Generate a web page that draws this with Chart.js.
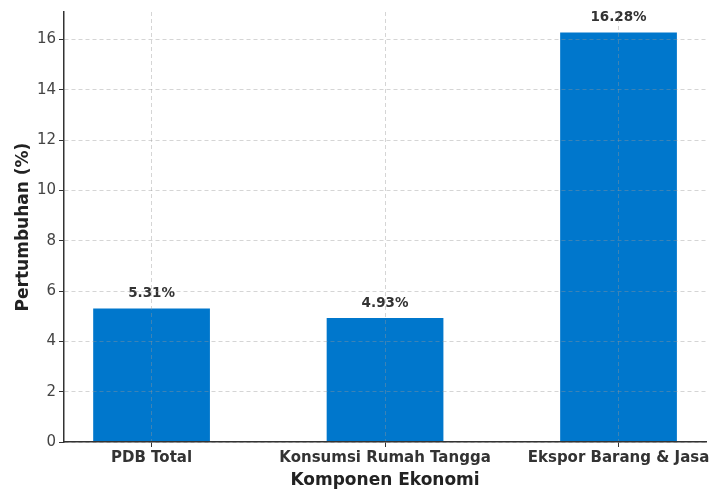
<!DOCTYPE html>
<html>
<head>
<meta charset="utf-8">
<script src="https://cdn.jsdelivr.net/npm/chart.js@4/dist/chart.umd.min.js"></script>
<style>
html,body{margin:0;padding:0;background:#fff;}
#wrap{width:712px;height:491px;position:relative;}
</style>
</head>
<body>
<div id="wrap"><canvas id="c" width="712" height="491"></canvas></div>
<script>
const categories = ["PDB Total", "Konsumsi Rumah Tangga", "Ekspor Barang & Jasa"];
const growth = [5.31, 4.93, 16.28];
const yTicks = [0, 2, 4, 6, 8, 10, 12, 14, 16];
const yMax = 17.09;

const FONT = "'DejaVu Sans', sans-serif";

const valueLabels = {
  id: 'valueLabels',
  afterDatasetsDraw(chart) {
    const ctx = chart.ctx;
    const meta = chart.getDatasetMeta(0);
    ctx.save();
    ctx.font = "bold 13.5px " + FONT;
    ctx.fillStyle = '#333333';
    ctx.textAlign = 'center';
    ctx.textBaseline = 'bottom';
    meta.data.forEach((bar, i) => {
      ctx.fillText(growth[i].toFixed(2) + '%', bar.x, bar.y - 8);
    });
    ctx.restore();
  }
};

new Chart(document.getElementById('c'), {
  type: 'bar',
  data: {
    datasets: [{
      data: growth.map((v, i) => ({x: i, y: v})),
      backgroundColor: '#0077CC',
      borderWidth: 0,
      barPercentage: 0.5,
      categoryPercentage: 1.0
    }]
  },
  options: {
    responsive: false,
    animation: false,
    layout: {padding: {left: 6, right: 5, top: 1, bottom: 0}},
    plugins: {legend: {display: false}, tooltip: {enabled: false}},
    scales: {
      x: {
        type: 'linear',
        min: -0.375,
        max: 2.375,
        offset: false,
        z: 1,
        afterBuildTicks(scale) { scale.ticks = categories.map((c, i) => ({value: i})); },
        afterFit(scale) { scale.height = 49; },
        ticks: {
          callback: (v) => categories[v],
          font: {family: FONT, size: 15, weight: 'bold'},
          color: '#333333',
          padding: 2,
          maxRotation: 0,
          autoSkip: false
        },
        grid: {
          z: 1,
          offset: false,
          color: 'rgba(150,150,150,0.4)',
          lineWidth: 1,
          tickLength: 5,
          tickColor: '#333333',
          tickBorderDash: [],
          tickWidth: 1
        },
        border: {display: true, color: '#333333', width: 1.5, dash: [4, 3], z: 2},
        title: {
          display: true,
          text: 'Komponen Ekonomi',
          font: {family: FONT, size: 17, weight: 'bold'},
          color: '#222222',
          padding: {top: 0, bottom: 0}
        }
      },
      y: {
        min: 0,
        max: yMax,
        z: 1,
        afterBuildTicks(scale) { scale.ticks = yTicks.map(v => ({value: v})); },
        afterFit(scale) { scale.width = 58; },
        ticks: {
          font: {family: FONT, size: 15},
          color: '#444444',
          padding: 3
        },
        grid: {
          z: 1,
          color: 'rgba(150,150,150,0.4)',
          lineWidth: 1,
          tickLength: 5,
          tickColor: '#333333',
          tickBorderDash: [],
          tickWidth: 1
        },
        border: {display: true, color: '#333333', width: 1.5, dash: [4, 3], z: 2},
        title: {
          display: true,
          text: 'Pertumbuhan (%)',
          font: {family: FONT, size: 17, weight: 'bold'},
          color: '#222222',
          padding: {top: 7, bottom: 0}
        }
      }
    }
  },
  plugins: [valueLabels]
});
</script>
</body>
</html>
